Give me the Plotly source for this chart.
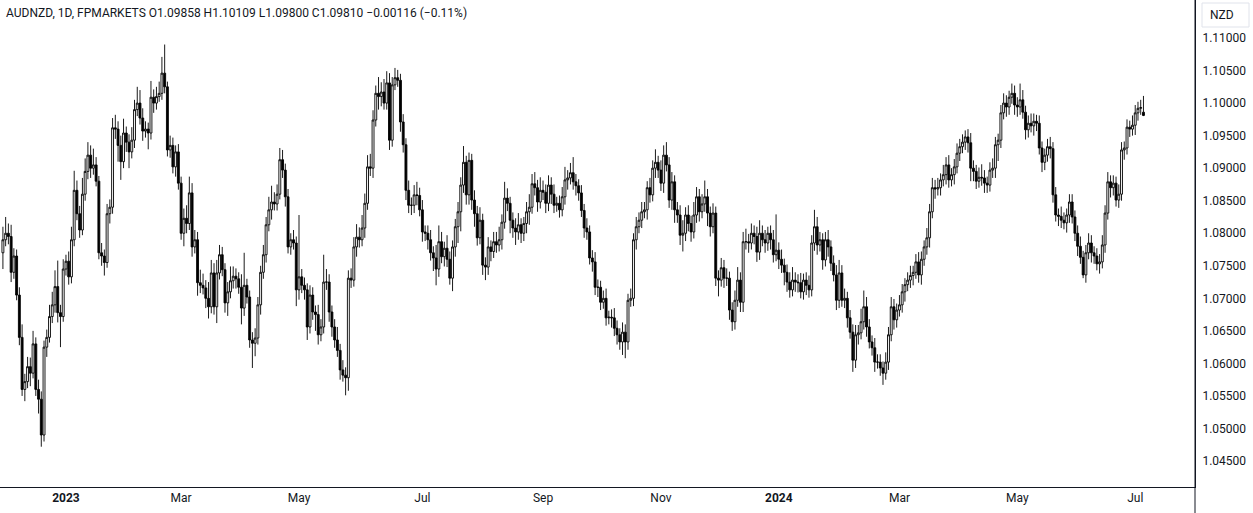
import pandas as pd
import plotly.graph_objects as go

# AUDNZD daily, FPMARKETS: closes, in pips (1e-4)
closes_pips = [
    10790, 10800, 10795, 10740, 10765, 10705, 10640, 10560, 10572, 10595,
    10585, 10630, 10560, 10545, 10490, 10625, 10640, 10672, 10690, 10718,
    10678, 10672, 10745, 10757, 10733, 10790, 10866, 10830, 10805, 10860,
    10895, 10920, 10900, 10905, 10880, 10770, 10765, 10755, 10830, 10840,
    10962, 10960, 10935, 10910, 10954, 10940, 10925, 10943, 10990, 11000,
    10977, 10957, 10960, 10954, 11009, 11000, 11010, 11015, 11046, 11025,
    10928, 10935, 10902, 10925, 10877, 10800, 10823, 10815, 10862, 10779,
    10790, 10724, 10720, 10716, 10700, 10687, 10739, 10687, 10739, 10767,
    10744, 10693, 10710, 10727, 10734, 10730, 10717, 10685, 10720, 10702,
    10636, 10631, 10639, 10690, 10740, 10767, 10813, 10836, 10848, 10845,
    10860, 10913, 10897, 10856, 10779, 10790, 10785, 10713, 10733, 10720,
    10713, 10656, 10705, 10679, 10675, 10644, 10656, 10725, 10725, 10679,
    10656, 10636, 10620, 10590, 10582, 10578, 10731, 10728, 10779, 10794,
    10790, 10808, 10846, 10902, 10900, 10974, 11015, 11010, 11017, 11000,
    11031, 10943, 11028, 11039, 11035, 10971, 10936, 10866, 10843, 10843,
    10859, 10858, 10836, 10802, 10800, 10790, 10770, 10762, 10745, 10787,
    10764, 10777, 10760, 10731, 10779, 10810, 10833, 10874, 10909, 10859,
    10912, 10851, 10830, 10793, 10820, 10751, 10748, 10779, 10772, 10787,
    10782, 10790, 10817, 10854, 10846, 10820, 10808, 10802, 10813, 10800,
    10815, 10833, 10840, 10876, 10870, 10848, 10866, 10863, 10846, 10874,
    10860, 10843, 10846, 10836, 10856, 10882, 10885, 10893, 10879, 10873,
    10862, 10835, 10808, 10802, 10762, 10756, 10717, 10717, 10694, 10700,
    10670, 10671, 10670, 10654, 10644, 10633, 10648, 10633, 10697, 10700,
    10790, 10810, 10820, 10833, 10836, 10870, 10859, 10900, 10909, 10897,
    10877, 10920, 10905, 10851, 10879, 10836, 10828, 10797, 10800, 10828,
    10815, 10802, 10828, 10856, 10833, 10845, 10856, 10831, 10810, 10831,
    10731, 10728, 10747, 10731, 10731, 10682, 10664, 10697, 10728, 10694,
    10787, 10787, 10785, 10800, 10795, 10771, 10800, 10790, 10785, 10800,
    10790, 10767, 10774, 10760, 10751, 10740, 10725, 10713, 10728, 10725,
    10724, 10710, 10728, 10720, 10713, 10785, 10810, 10782, 10790, 10759,
    10790, 10779, 10754, 10736, 10697, 10739, 10697, 10700, 10670, 10648,
    10605, 10644, 10647, 10664, 10687, 10656, 10633, 10624, 10602, 10602,
    10593, 10585, 10602, 10644, 10687, 10667, 10682, 10690, 10710, 10721,
    10728, 10735, 10740, 10756, 10736, 10760, 10779, 10793, 10833, 10870,
    10868, 10870, 10882, 10890, 10905, 10882, 10890, 10902, 10923, 10933,
    10940, 10948, 10939, 10900, 10895, 10880, 10886, 10885, 10877, 10874,
    10897, 10900, 10936, 10943, 10985, 11000, 10994, 11009, 11015, 10997,
    10994, 11005, 10986, 10959, 10969, 10965, 10972, 10969, 10931, 10909,
    10920, 10933, 10930, 10859, 10828, 10826, 10820, 10816, 10828, 10848,
    10825, 10800, 10780, 10763, 10736, 10770, 10785, 10770, 10765, 10753,
    10756, 10782, 10831, 10879, 10870, 10877, 10851, 10860, 10928, 10931,
    10963, 10960, 10966, 10985, 10992, 10993, 10981,
]

# upper / lower wick lengths above / below the body, in pips
upper_wick = [
    20, 25, 15, 18, 12, 10, 12, 20, 12, 15,
    14, 20, 10, 15, 12, 10, 12, 18, 20, 25,
    40, 12, 15, 10, 15, 20, 30, 15, 12, 25,
    20, 20, 15, 25, 12, 8, 15, 10, 15, 12,
    15, 20, 12, 15, 22, 10, 12, 20, 15, 25,
    20, 15, 12, 10, 25, 12, 15, 18, 25, 44,
    8, 15, 12, 10, 12, 10, 15, 20, 25, 15,
    15, 12, 20, 18, 12, 25, 20, 15, 20, 15,
    12, 10, 15, 22, 15, 12, 10, 20, 50, 10,
    10, 12, 15, 12, 10, 15, 12, 20, 25, 15,
    15, 18, 15, 10, 12, 10, 15, 10, 95, 12,
    12, 10, 15, 12, 10, 15, 12, 42, 20, 12,
    10, 12, 20, 10, 15, 12, 12, 15, 15, 20,
    15, 20, 15, 18, 20, 15, 12, 25, 15, 20,
    18, 15, 12, 15, 12, 10, 12, 10, 15, 12,
    15, 20, 12, 15, 10, 12, 15, 10, 20, 25,
    15, 10, 20, 12, 10, 12, 15, 12, 25, 10,
    12, 10, 15, 12, 20, 10, 12, 15, 10, 15,
    15, 20, 12, 25, 15, 10, 12, 15, 18, 10,
    10, 15, 20, 15, 18, 12, 20, 15, 12, 15,
    12, 15, 10, 12, 15, 20, 12, 15, 24, 12,
    10, 12, 10, 15, 10, 12, 15, 12, 10, 12,
    15, 10, 12, 15, 12, 10, 15, 12, 10, 15,
    10, 15, 12, 15, 12, 10, 15, 12, 20, 10,
    15, 15, 20, 12, 15, 10, 12, 15, 20, 12,
    15, 12, 20, 15, 12, 15, 25, 12, 10, 15,
    10, 12, 15, 12, 15, 10, 12, 15, 20, 12,
    15, 20, 12, 15, 12, 15, 20, 12, 15, 10,
    12, 15, 55, 12, 15, 10, 12, 15, 20, 12,
    12, 15, 10, 12, 15, 12, 26, 15, 12, 10,
    12, 15, 10, 12, 15, 20, 12, 15, 10, 12,
    12, 15, 12, 20, 25, 15, 12, 10, 15, 12,
    12, 10, 15, 12, 15, 12, 10, 15, 12, 10,
    12, 15, 10, 12, 15, 12, 10, 15, 12, 15,
    12, 15, 10, 15, 12, 15, 10, 12, 15, 12,
    12, 10, 12, 15, 12, 10, 15, 20, 12, 10,
    12, 15, 12, 10, 12, 15, 12, 10, 15, 12,
    12, 25, 15, 10, 12, 15, 12, 10, 12, 10,
    10, 12, 15, 10, 12, 10, 15, 12, 10, 12,
    12, 10, 12, 15, 10, 12, 15, 12, 10, 12,
    12, 15, 12, 15, 10, 12, 10, 15, 12, 10,
    12, 10, 15, 12, 10, 12, 25,
]
lower_wick = [
    25, 10, 12, 15, 10, 8, 12, 10, 18, 10,
    20, 8, 10, 22, 18, 10, 15, 8, 10, 12,
    15, 47, 8, 10, 12, 10, 10, 10, 12, 8,
    10, 12, 15, 10, 8, 10, 15, 20, 8, 15,
    10, 15, 25, 28, 10, 15, 25, 10, 12, 10,
    10, 15, 10, 25, 10, 15, 10, 8, 10, 10,
    10, 12, 10, 15, 10, 10, 20, 15, 10, 15,
    10, 20, 12, 10, 15, 18, 10, 12, 25, 10,
    10, 15, 20, 10, 12, 15, 10, 25, 12, 10,
    12, 38, 20, 10, 15, 10, 12, 10, 15, 10,
    10, 8, 12, 15, 10, 12, 10, 25, 15, 12,
    15, 20, 10, 12, 25, 15, 10, 10, 12, 15,
    15, 12, 10, 15, 10, 27, 20, 12, 10, 15,
    12, 10, 15, 10, 12, 15, 10, 20, 15, 10,
    10, 15, 10, 8, 10, 15, 12, 15, 12, 15,
    12, 15, 10, 15, 12, 15, 12, 20, 25, 12,
    10, 15, 12, 10, 20, 15, 25, 30, 12, 15,
    15, 15, 20, 12, 10, 15, 20, 12, 15, 10,
    12, 10, 15, 10, 12, 20, 15, 20, 12, 15,
    12, 15, 20, 10, 12, 15, 10, 12, 15, 12,
    15, 12, 10, 12, 10, 12, 15, 10, 12, 15,
    12, 10, 15, 12, 10, 15, 12, 15, 12, 10,
    12, 10, 15, 12, 15, 12, 20, 25, 12, 10,
    12, 15, 10, 12, 10, 15, 12, 10, 15, 12,
    12, 15, 10, 12, 15, 20, 12, 15, 25, 12,
    12, 15, 10, 12, 15, 10, 12, 20, 15, 10,
    12, 25, 10, 15, 12, 15, 14, 12, 10, 15,
    15, 12, 15, 10, 12, 15, 12, 10, 15, 12,
    15, 12, 10, 15, 12, 20, 15, 12, 10, 15,
    15, 10, 12, 15, 12, 10, 12, 15, 10, 15,
    10, 15, 12, 10, 15, 12, 10, 12, 15, 10,
    18, 12, 15, 10, 12, 15, 10, 12, 15, 10,
    12, 18, 10, 12, 10, 15, 12, 10, 12, 15,
    10, 12, 15, 10, 12, 15, 10, 12, 15, 10,
    15, 10, 12, 10, 15, 12, 10, 15, 10, 12,
    10, 12, 15, 20, 15, 12, 10, 12, 15, 12,
    10, 12, 15, 25, 12, 10, 15, 12, 10, 15,
    15, 12, 10, 15, 12, 10, 15, 12, 10, 15,
    12, 10, 15, 12, 10, 15, 12, 10, 15, 12,
    10, 12, 15, 10, 5, 12, 10, 15, 12, 10,
    15, 10, 12, 10, 15, 12, 10, 12, 10, 15,
    10, 12, 10, 15, 12, 10, 1,
]

first_open_pips = 10770
last_open_pips = 10986  # O1.09858 in the legend

tick_dates = ["2023-01-02", "2023-03-01", "2023-05-01", "2023-07-03", "2023-09-01",
              "2023-11-01", "2024-01-01", "2024-03-01", "2024-05-01", "2024-07-01"]
tick_labels = ["<b>2023</b>", "Mar", "May", "Jul", "Sep", "Nov",
               "<b>2024</b>", "Mar", "May", "Jul"]
price_ticks = [1.045 + 0.005 * k for k in range(14)]

legend_text = ("AUDNZD, 1D, FPMARKETS O1.09858 H1.10109 L1.09800 "
               "C1.09810 \u22120.00116 (\u22120.11%)")

# one candle per weekday, first on 30 Nov 2022
dates = pd.bdate_range("2022-11-30", periods=len(closes_pips))
opens_pips = [first_open_pips] + closes_pips[:-1]
opens_pips[-1] = last_open_pips

df = pd.DataFrame({"date": dates, "open": opens_pips, "close": closes_pips,
                   "up": upper_wick, "dn": lower_wick})
df["high"] = df[["open", "close"]].max(axis=1) + df["up"]
df["low"] = df[["open", "close"]].min(axis=1) - df["dn"]
for col in ["open", "high", "low", "close"]:
    df[col] = df[col] / 10000

W, H = 1253, 513
PLOT_W, PLOT_H = 1195, 487

fig = go.Figure(go.Candlestick(
    x=df["date"], open=df["open"], high=df["high"], low=df["low"], close=df["close"],
    increasing=dict(line=dict(color="#000000", width=0.9), fillcolor="#ffffff"),
    decreasing=dict(line=dict(color="#000000", width=0.9), fillcolor="#000000"),
    whiskerwidth=0,
    hoverinfo="skip",
))

fig.update_layout(
    width=W, height=H,
    margin=dict(l=0, r=W - PLOT_W, t=0, b=H - PLOT_H),
    paper_bgcolor="white", plot_bgcolor="white",
    showlegend=False,
    boxgap=0,
    font=dict(family="Roboto, 'Noto Sans', sans-serif", size=12, color="#131722"),
    xaxis=dict(
        type="date",
        rangeslider=dict(visible=False),
        rangebreaks=[dict(bounds=["sat", "mon"])],
        range=["2022-11-28 22:34", "2024-07-30 19:12"],
        tickvals=tick_dates, ticktext=tick_labels,
        showgrid=False, zeroline=False,
        showline=True, linecolor="#131722", linewidth=1,
        ticks="", tickfont=dict(size=12, color="#131722"),
        fixedrange=True,
    ),
    yaxis=dict(
        side="right",
        range=[1.04101, 1.11584],
        tickvals=price_ticks, tickformat=".5f",
        showgrid=False, zeroline=False,
        showline=True, linecolor="#131722", linewidth=1,
        ticks="outside", ticklen=4, tickcolor="#ffffff",
        tickfont=dict(size=12, color="#131722"),
        fixedrange=True,
    ),
)

# separator line running down through the time axis
fig.add_shape(type="line", xref="paper", yref="paper",
              x0=1, x1=1, y0=-(H - PLOT_H) / PLOT_H, y1=1,
              line=dict(color="#131722", width=1))

# currency box at the top of the price scale
fig.add_shape(type="rect", xref="paper", yref="paper",
              x0=1202 / PLOT_W, x1=1249 / PLOT_W,
              y0=1 - 27 / PLOT_H, y1=1 - 3 / PLOT_H,
              line=dict(color="#e0e3eb", width=1), fillcolor="white")
fig.add_annotation(xref="paper", yref="paper", x=1208 / PLOT_W, y=1 - 15 / PLOT_H,
                   xanchor="left", yanchor="middle", showarrow=False,
                   text="NZD", font=dict(size=12, color="#131722"))

fig.add_annotation(xref="paper", yref="paper", x=0, y=1, xshift=4, yshift=-4,
                   xanchor="left", yanchor="top", showarrow=False,
                   text=legend_text, font=dict(size=12, color="#131722"))

fig.write_html("out.html", config={"displayModeBar": False},
               post_script="document.body.style.margin = '0';")
